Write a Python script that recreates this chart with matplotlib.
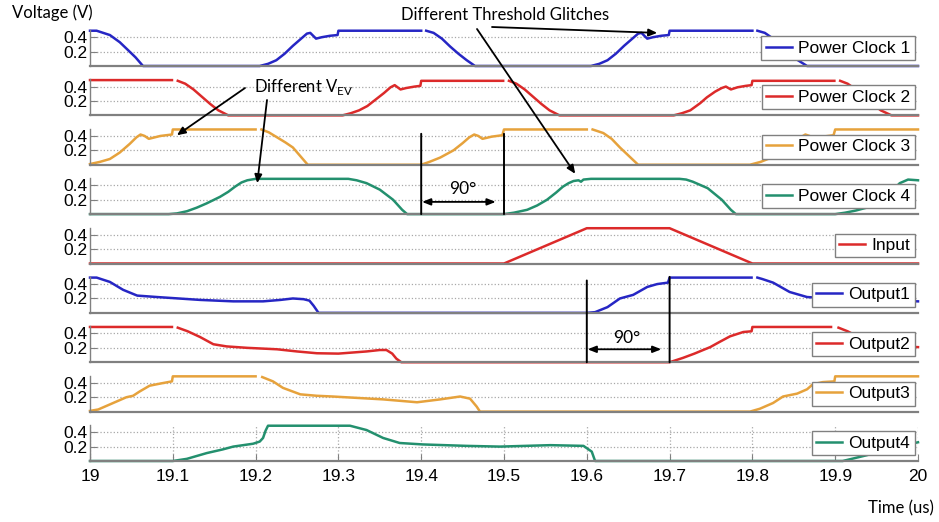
import numpy as np
import matplotlib
matplotlib.use('Agg')
import matplotlib.pyplot as plt
from matplotlib.patches import ConnectionPatch

nan = np.nan

# ---------------- data: (time in us, voltage in V) ----------------
pc1 = [(19.000,0.49),(19.008,0.49),(19.024,0.43),(19.036,0.33),(19.046,0.22),(19.055,0.12),(19.064,0.0),
       (19.205,0.0),(19.215,0.03),(19.225,0.08),(19.235,0.17),(19.245,0.28),(19.255,0.38),(19.262,0.45),(19.266,0.46),
       (19.273,0.38),(19.280,0.40),(19.290,0.42),(19.299,0.43),(19.300,0.49),
       (19.400,0.49),(19.403,nan),(19.406,0.49),(19.415,0.46),(19.425,0.38),(19.435,0.27),(19.445,0.17),(19.455,0.08),(19.465,0.0),
       (19.605,0.0),(19.615,0.03),(19.625,0.08),(19.635,0.17),(19.645,0.28),(19.655,0.38),(19.662,0.45),(19.666,0.46),
       (19.673,0.38),(19.680,0.40),(19.690,0.42),(19.699,0.43),(19.700,0.49),
       (19.800,0.49),(19.803,nan),(19.806,0.49),(19.815,0.46),(19.825,0.38),(19.835,0.27),(19.845,0.17),(19.855,0.08),(19.866,0.0),
       (20.000,0.0)]

pc2 = [(19.000,0.49),(19.099,0.49),(19.102,nan),(19.106,0.48),(19.115,0.44),(19.125,0.36),(19.135,0.26),(19.145,0.16),(19.155,0.07),(19.167,0.0),
       (19.305,0.0),(19.315,0.03),(19.325,0.07),(19.335,0.13),(19.345,0.22),(19.355,0.31),(19.363,0.39),(19.368,0.42),
       (19.375,0.36),(19.382,0.38),(19.392,0.40),(19.399,0.41),(19.400,0.48),
       (19.499,0.48),(19.502,nan),(19.506,0.48),(19.515,0.44),(19.525,0.36),(19.535,0.26),(19.545,0.16),(19.555,0.07),(19.567,0.0),
       (19.705,0.0),(19.715,0.03),(19.725,0.07),(19.737,0.17),(19.745,0.25),(19.755,0.33),(19.763,0.38),(19.768,0.40),
       (19.774,0.36),(19.782,0.39),(19.792,0.41),(19.799,0.42),(19.800,0.48),
       (19.899,0.48),(19.902,nan),(19.906,0.48),(19.915,0.44),(19.925,0.36),(19.935,0.26),(19.945,0.16),(19.955,0.07),(19.968,0.0),
       (20.000,0.0)]

pc3 = [(19.000,0.01),(19.012,0.04),(19.024,0.08),(19.036,0.17),(19.048,0.29),(19.056,0.38),(19.061,0.42),(19.066,0.40),
       (19.071,0.36),(19.085,0.40),(19.099,0.42),(19.100,0.49),
       (19.200,0.49),(19.203,nan),(19.207,0.49),(19.216,0.45),(19.226,0.38),(19.236,0.31),(19.245,0.24),(19.254,0.12),(19.263,0.0),
       (19.400,0.0),(19.410,0.04),(19.423,0.10),(19.439,0.20),(19.450,0.30),(19.458,0.38),(19.464,0.42),(19.469,0.40),
       (19.474,0.36),(19.485,0.39),(19.498,0.41),(19.500,0.49),
       (19.600,0.49),(19.603,nan),(19.607,0.49),(19.620,0.44),(19.630,0.36),(19.640,0.24),(19.651,0.12),(19.662,0.0),
       (19.797,0.0),(19.810,0.04),(19.823,0.10),(19.839,0.20),(19.850,0.30),(19.858,0.38),(19.864,0.42),(19.869,0.40),
       (19.874,0.36),(19.885,0.39),(19.898,0.41),(19.900,0.49),(20.000,0.49)]

pc4 = [(19.000,0.0),(19.095,0.0),(19.105,0.01),(19.117,0.04),(19.129,0.09),(19.141,0.15),(19.157,0.24),(19.167,0.31),
       (19.175,0.38),(19.183,0.44),(19.190,0.47),(19.200,0.49),
       (19.312,0.49),(19.322,0.47),(19.334,0.43),(19.350,0.34),(19.366,0.20),(19.377,0.06),(19.383,0.0),
       (19.500,0.0),(19.512,0.02),(19.528,0.06),(19.540,0.12),(19.552,0.20),(19.563,0.30),(19.571,0.38),(19.578,0.43),
       (19.584,0.46),(19.590,0.47),(19.593,0.45),(19.596,0.48),(19.605,0.49),
       (19.712,0.49),(19.720,0.48),(19.728,0.45),(19.746,0.36),(19.763,0.20),(19.774,0.06),(19.780,0.0),
       (19.900,0.0),(19.912,0.02),(19.925,0.05),(19.938,0.09),(19.950,0.15),(19.962,0.25),(19.970,0.34),(19.978,0.43),
       (19.988,0.48),(20.000,0.47)]

inp = [(19.0,0.0),(19.5,0.0),(19.6,0.49),(19.7,0.49),(19.8,0.0),(20.0,0.0)]

out1 = [(19.000,0.49),(19.008,0.49),(19.024,0.43),(19.040,0.32),(19.057,0.24),(19.081,0.22),(19.133,0.18),(19.173,0.16),
        (19.209,0.16),(19.230,0.18),(19.245,0.20),(19.258,0.19),(19.265,0.17),(19.270,0.10),(19.276,0.0),
        (19.600,0.0),(19.610,0.01),(19.625,0.08),(19.640,0.20),(19.656,0.25),(19.673,0.36),(19.685,0.40),(19.698,0.42),(19.700,0.49),
        (19.799,0.49),(19.802,nan),(19.806,0.49),(19.812,0.47),(19.825,0.42),(19.845,0.29),(19.866,0.22),(19.880,0.21),
        (19.920,0.19),(19.960,0.17),(20.000,0.16)]

out2 = [(19.000,0.49),(19.099,0.49),(19.102,nan),(19.106,0.48),(19.118,0.43),(19.133,0.35),(19.149,0.25),(19.165,0.22),
        (19.190,0.20),(19.226,0.18),(19.250,0.15),(19.274,0.125),(19.300,0.12),(19.334,0.15),(19.350,0.17),(19.358,0.17),
        (19.365,0.12),(19.370,0.05),(19.376,0.0),
        (19.700,0.0),(19.716,0.06),(19.730,0.12),(19.749,0.21),(19.760,0.28),(19.773,0.36),(19.789,0.42),(19.799,0.43),(19.800,0.49),
        (19.895,0.49),(19.898,nan),(19.904,0.48),(19.915,0.43),(19.930,0.34),(19.945,0.26),(19.965,0.23),(20.000,0.21)]

out3 = [(19.000,0.01),(19.010,0.03),(19.024,0.10),(19.044,0.20),(19.052,0.22),(19.060,0.28),(19.072,0.36),(19.085,0.39),
        (19.099,0.42),(19.100,0.49),
        (19.200,0.49),(19.203,nan),(19.208,0.48),(19.221,0.42),(19.233,0.33),(19.254,0.24),(19.274,0.22),(19.293,0.21),
        (19.354,0.17),(19.395,0.13),(19.423,0.17),(19.447,0.21),(19.459,0.18),(19.467,0.07),(19.471,0.0),
        (19.797,0.0),(19.809,0.04),(19.825,0.12),(19.837,0.21),(19.854,0.25),(19.866,0.31),(19.873,0.38),(19.885,0.41),
        (19.899,0.42),(19.900,0.49),(20.000,0.49)]

out4 = [(19.000,0.0),(19.100,0.0),(19.117,0.03),(19.141,0.11),(19.160,0.16),(19.173,0.20),(19.197,0.24),(19.205,0.27),
        (19.209,0.32),(19.212,0.42),(19.215,0.49),
        (19.314,0.49),(19.334,0.43),(19.354,0.32),(19.374,0.25),(19.402,0.23),(19.455,0.21),(19.495,0.20),(19.556,0.22),
        (19.596,0.21),(19.606,0.13),(19.610,0.0),
        (19.909,0.0),(19.920,0.03),(19.938,0.08),(19.960,0.15),(19.980,0.21),(20.000,0.26)]

labels = ["Power Clock 1", "Power Clock 2", "Power Clock 3", "Power Clock 4", "Input",
          "Output1", "Output2", "Output3", "Output4"]
series = [pc1, pc2, pc3, pc4, inp, out1, out2, out3, out4]

BLUE, RED, ORANGE, TEAL = '#2626c4', '#dc2a2a', '#e6a23c', '#23906e'
colors = [BLUE, RED, ORANGE, TEAL, RED, BLUE, RED, ORANGE, TEAL]

xticks = [19, 19.1, 19.2, 19.3, 19.4, 19.5, 19.6, 19.7, 19.8, 19.9, 20]
xticklabels = ['19', '19.1', '19.2', '19.3', '19.4', '19.5', '19.6', '19.7', '19.8', '19.9', '20']
yticks = [0.2, 0.4]
yticklabels = ['0.2', '0.4']

# ---------------- figure ----------------
plt.rcParams['font.family'] = ['Liberation Sans', 'DejaVu Sans']
W, H = 939, 522
fig = plt.figure(figsize=(W / 100, H / 100), dpi=100)
NOTEFONT = ['Lato', 'DejaVu Sans']
GRAY = '#808080'

def fx(px):
    return px / W

def fy(py):
    return 1 - py / H

left_px, right_px = 90, 918
base0, step, hpx = 66, 49.375, 36
axes = []
for i, (lab, data, col) in enumerate(zip(labels, series, colors)):
    base = base0 + step * i
    ax = fig.add_axes([fx(left_px), fy(base), (right_px - left_px) / W, hpx / H])
    t = [p[0] for p in data]
    v = [p[1] for p in data]
    ax.plot(t, v, color=col, lw=1.8, label=lab, clip_on=False, solid_joinstyle='round')
    ax.set_xlim(19, 20)
    ax.set_ylim(0, 0.5)
    ax.set_yticks(yticks)
    ax.set_yticklabels(yticklabels)
    ax.yaxis.grid(True, linestyle=':', color='#a8a8a8', lw=0.9)
    ax.set_axisbelow(True)
    for s in ['top', 'right']:
        ax.spines[s].set_visible(False)
    ax.spines['left'].set_color(GRAY)
    ax.spines['left'].set_linewidth(1.0)
    ax.spines['bottom'].set_color(GRAY)
    ax.spines['bottom'].set_linewidth(1.6)
    ax.tick_params(axis='y', direction='in', length=5, color=GRAY, pad=2, labelsize=12.5)
    ax.set_xticks(xticks)
    if i < len(labels) - 1:
        ax.tick_params(axis='x', length=0, labelbottom=False)
    else:
        ax.set_xticklabels(xticklabels)
        ax.tick_params(axis='x', direction='in', length=5, color=GRAY, pad=6, labelsize=12.5)
        ax.xaxis.grid(True, linestyle=':', color='#a8a8a8', lw=0.9)
    leg = ax.legend(loc='center right', bbox_to_anchor=(1.0, 0.5), borderaxespad=0.2,
                    fancybox=False, framealpha=1, edgecolor=GRAY, handlelength=1.5,
                    handletextpad=0.35, borderpad=0.25, fontsize=12.5)
    leg.get_frame().set_linewidth(1.0)
    leg.set_zorder(10)
    axes.append(ax)

# ---------------- texts ----------------
fig.text(fx(12), fy(13), 'Voltage (V)', family=NOTEFONT, fontsize=12, ha='left', va='center')
fig.text(fx(901), fy(508), 'Time (us)', family=NOTEFONT, fontsize=12, ha='center', va='center')
fig.text(fx(505), fy(15), 'Different Threshold Glitches', family=NOTEFONT, fontsize=12, ha='center', va='center')
fig.text(fx(254), fy(87), r'Different V$_\mathregular{EV}$', family=NOTEFONT, fontsize=12, ha='left', va='center')
fig.text(fx(463), fy(189), '90°', family=NOTEFONT, fontsize=12.5, ha='center', va='center')
fig.text(fx(627), fy(338), '90°', family=NOTEFONT, fontsize=12.5, ha='center', va='center')

arrow_kw = dict(arrowstyle='-|>,head_length=0.5,head_width=0.22', color='black', lw=1.3,
                shrinkA=0, shrinkB=0)

def pointer(ax, xy, start_px):
    ax.annotate('', xy=xy, xycoords='data', xytext=(fx(start_px[0]), fy(start_px[1])),
                textcoords='figure fraction', arrowprops=arrow_kw, annotation_clip=False)

pointer(axes[0], (19.685, 0.46), (492, 27))
pointer(axes[3], (19.586, 0.56), (477, 29))
pointer(axes[2], (19.105, 0.41), (245, 88))
pointer(axes[3], (19.202, 0.43), (267, 100))

# 90 degree markers
def vline(ax_top, ax_bot, x, ytop):
    con = ConnectionPatch(xyA=(x, ytop), coordsA=ax_top.transData,
                          xyB=(x, 0), coordsB=ax_bot.transData, color='black', lw=1.4)
    fig.add_artist(con)

vline(axes[2], axes[3], 19.4, 0.43)
vline(axes[2], axes[3], 19.5, 0.43)
vline(axes[5], axes[6], 19.6, 0.45)
vline(axes[5], axes[6], 19.7, 0.50)

dbl = dict(arrowstyle='<|-|>,head_length=0.5,head_width=0.2', color='black', lw=1.3,
           shrinkA=0, shrinkB=0)
axes[3].annotate('', xy=(19.49, 0.17), xytext=(19.401, 0.17), arrowprops=dbl, annotation_clip=False)
axes[6].annotate('', xy=(19.69, 0.18), xytext=(19.601, 0.18), arrowprops=dbl, annotation_clip=False)

fig.savefig('out.png', dpi=100)
